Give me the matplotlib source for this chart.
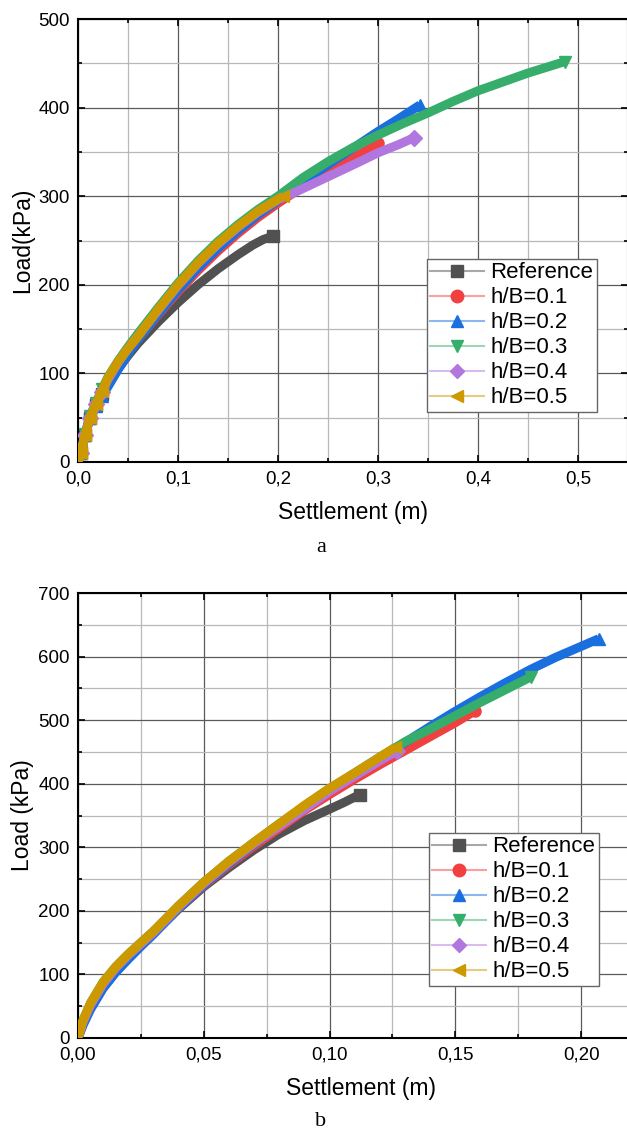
import numpy as np
import matplotlib
matplotlib.use("Agg")
import matplotlib.pyplot as plt
from matplotlib.lines import Line2D
from matplotlib.colors import to_rgb
from matplotlib.ticker import MultipleLocator, FuncFormatter

plt.rcParams['font.family'] = ['Liberation Sans', 'DejaVu Sans']

labels = ['Reference', 'h/B=0.1', 'h/B=0.2', 'h/B=0.3', 'h/B=0.4', 'h/B=0.5']
colors = ['#515151', '#F14040', '#1A6FDF', '#37AD6B', '#B177DE', '#CC9900']
markers = ['s', 'o', '^', 'v', 'D', '<']

# ---- panel a data (settlement m, load kPa)
a_ref_x = [0, 0.003, 0.007, 0.012, 0.018, 0.024, 0.03, 0.04, 0.05, 0.06, 0.08, 0.1, 0.12, 0.14, 0.16, 0.175, 0.185, 0.195]
a_ref_y = [0, 10, 30, 50, 64, 77, 88, 105, 120, 134, 158, 180, 200, 218, 234, 245, 251, 255]
a_01_x = [0, 0.003, 0.007, 0.012, 0.018, 0.024, 0.03, 0.04, 0.05, 0.06, 0.08, 0.1, 0.12, 0.14, 0.16, 0.18, 0.2, 0.22, 0.24, 0.26, 0.28, 0.3]
a_01_y = [0, 10, 30, 50, 64, 77, 88, 106, 123, 138, 166, 192, 216, 238, 258, 276, 292, 307, 320, 333, 346, 360]
a_02_x = [0, 0.003, 0.007, 0.012, 0.018, 0.024, 0.03, 0.04, 0.05, 0.06, 0.08, 0.1, 0.12, 0.14, 0.16, 0.18, 0.2, 0.22, 0.24, 0.26, 0.28, 0.3, 0.32, 0.342]
a_02_y = [0, 10, 30, 50, 63, 75, 85, 104, 122, 138, 167, 194, 219, 241, 261, 279, 295, 312, 328, 343, 358, 373, 387, 403]
a_03_x = [0, 0.003, 0.007, 0.012, 0.018, 0.024, 0.03, 0.04, 0.05, 0.06, 0.08, 0.1, 0.12, 0.14, 0.16, 0.18, 0.2, 0.225, 0.25, 0.275, 0.3, 0.325, 0.35, 0.375, 0.4, 0.425, 0.45, 0.47, 0.487]
a_03_y = [0, 12, 32, 52, 67, 82, 96, 114, 130, 145, 174, 202, 227, 249, 268, 285, 300, 321, 339, 355, 369, 382, 394, 407, 419, 429, 439, 446, 452]
a_04_x = [0, 0.003, 0.007, 0.012, 0.018, 0.024, 0.03, 0.04, 0.05, 0.06, 0.08, 0.1, 0.12, 0.14, 0.16, 0.18, 0.2, 0.22, 0.25, 0.28, 0.3, 0.32, 0.336]
a_04_y = [0, 10, 30, 50, 65, 79, 93, 112, 128, 142, 171, 199, 224, 246, 265, 282, 296, 306, 322, 338, 349, 358, 366]
a_05_x = [0, 0.003, 0.007, 0.012, 0.018, 0.024, 0.03, 0.04, 0.05, 0.06, 0.08, 0.1, 0.12, 0.14, 0.16, 0.18, 0.205]
a_05_y = [0, 10, 30, 50, 65, 80, 95, 113, 128, 142, 172, 200, 225, 247, 266, 283, 300]

# ---- panel b data
b_ref_x = [0, 0.002, 0.005, 0.01, 0.015, 0.02, 0.025, 0.03, 0.04, 0.05, 0.06, 0.07, 0.08, 0.09, 0.1, 0.106, 0.112]
b_ref_y = [0, 25, 50, 82, 106, 127, 146, 165, 203, 238, 268, 296, 321, 342, 360, 371, 383]
b_01_x = [0, 0.002, 0.005, 0.01, 0.015, 0.02, 0.025, 0.03, 0.04, 0.05, 0.06, 0.07, 0.08, 0.09, 0.1, 0.11, 0.12, 0.13, 0.14, 0.15, 0.158]
b_01_y = [0, 22, 48, 80, 105, 126, 146, 165, 205, 240, 272, 302, 330, 358, 383, 407, 430, 452, 474, 496, 515]
b_02_x = [0, 0.002, 0.005, 0.01, 0.015, 0.02, 0.025, 0.03, 0.04, 0.05, 0.06, 0.07, 0.08, 0.09, 0.1, 0.11, 0.12, 0.13, 0.14, 0.15, 0.16, 0.17, 0.18, 0.19, 0.2, 0.207]
b_02_y = [0, 20, 45, 78, 103, 124, 144, 163, 204, 241, 274, 305, 334, 362, 390, 416, 440, 465, 490, 514, 537, 559, 580, 599, 616, 628]
b_03_x = [0, 0.002, 0.005, 0.01, 0.015, 0.02, 0.025, 0.03, 0.04, 0.05, 0.06, 0.07, 0.08, 0.09, 0.1, 0.11, 0.12, 0.13, 0.14, 0.15, 0.16, 0.17, 0.18]
b_03_y = [0, 28, 55, 88, 112, 132, 150, 168, 208, 245, 278, 308, 337, 364, 392, 417, 442, 466, 486, 507, 528, 548, 568]
b_04_x = [0, 0.002, 0.005, 0.01, 0.015, 0.02, 0.025, 0.03, 0.04, 0.05, 0.06, 0.07, 0.08, 0.09, 0.1, 0.11, 0.12, 0.127]
b_04_y = [0, 25, 52, 85, 110, 130, 148, 166, 206, 243, 276, 306, 333, 360, 388, 412, 436, 452]
b_05_x = [0, 0.002, 0.005, 0.01, 0.015, 0.02, 0.025, 0.03, 0.04, 0.05, 0.06, 0.07, 0.08, 0.09, 0.1, 0.11, 0.12, 0.126]
b_05_y = [0, 28, 55, 88, 112, 132, 150, 168, 208, 245, 278, 308, 337, 366, 393, 417, 442, 457]

series_a = [(a_ref_x, a_ref_y), (a_01_x, a_01_y), (a_02_x, a_02_y), (a_03_x, a_03_y), (a_04_x, a_04_y), (a_05_x, a_05_y)]
series_b = [(b_ref_x, b_ref_y), (b_01_x, b_01_y), (b_02_x, b_02_y), (b_03_x, b_03_y), (b_04_x, b_04_y), (b_05_x, b_05_y)]

W, H = 627, 1133
fig = plt.figure(figsize=(W / 100, H / 100), dpi=100)


def px_axes(l, r, t, b):
    return fig.add_axes([l / W, 1 - b / H, (r - l) / W, (b - t) / H])


def lighter(c, f=0.5):
    r, g, b = to_rgb(c)
    return (r + (1 - r) * f, g + (1 - g) * f, b + (1 - b) * f)


def style(ax, xmaj, xmin, ymaj, ymin, xfmt, ylab):
    ax.xaxis.set_major_locator(MultipleLocator(xmaj))
    ax.xaxis.set_minor_locator(MultipleLocator(xmin))
    ax.yaxis.set_major_locator(MultipleLocator(ymaj))
    ax.yaxis.set_minor_locator(MultipleLocator(ymin))
    ax.xaxis.set_major_formatter(FuncFormatter(lambda v, p: (xfmt % v).replace('.', ',')))
    ax.grid(True, which='major', color='#5a5a5a', lw=0.9)
    ax.grid(True, which='minor', color='#b8b8b8', lw=0.9)
    ax.set_axisbelow(True)
    ax.tick_params(which='both', direction='in', top=True, right=True, labelsize=13.5, width=1.2, pad=6)
    ax.tick_params(which='major', length=5)
    ax.tick_params(which='minor', length=3)
    for s in ax.spines.values():
        s.set_linewidth(1.5)
        s.set_color('black')
    ax.set_xlabel('Settlement (m)', fontsize=16.5, labelpad=10)
    ax.set_ylabel(ylab, fontsize=16.5, labelpad=3)


def draw(ax, series, leg_box, early_marks):
    for (x, y), c, m in zip(series, colors, markers):
        ax.plot(x, y, color=c, lw=6.5, solid_capstyle='butt', solid_joinstyle='round', zorder=3)
        if early_marks:
            ax.plot(x[1:6], y[1:6], ls='none', marker=m, ms=8, color=c, zorder=3)
        ax.plot(x[-1:], y[-1:], ls='none', marker=m, ms=8, color=c, zorder=3)
    handles = [Line2D([], [], color=lighter(c), lw=1.5, marker=m, ms=9 if m != 'D' else 7.5,
                      markerfacecolor=c, markeredgecolor=c) for c, m in zip(colors, markers)]
    l, t = leg_box
    leg = ax.legend(handles, labels, loc='upper left', bbox_to_anchor=(l / W, 1 - t / H),
                    bbox_transform=fig.transFigure, fontsize=16, frameon=True, fancybox=False,
                    handlelength=2.4, handletextpad=0.3, labelspacing=0.18, borderpad=0.15,
                    borderaxespad=0, edgecolor='#666666', framealpha=1)
    leg.get_frame().set_linewidth(1.0)


# panel a
ax1 = px_axes(78, 628, 19, 462)
draw(ax1, series_a, (427, 259), True)
ax1.set_xlim(0, 0.55)
ax1.set_ylim(0, 500)
style(ax1, 0.1, 0.05, 100, 50, '%.1f', 'Load(kPa)')

# panel b
ax2 = px_axes(78, 644, 593, 1038)
draw(ax2, series_b, (429, 833), False)
ax2.set_xlim(0, 0.225)
ax2.set_ylim(0, 700)
style(ax2, 0.05, 0.025, 100, 50, '%.2f', 'Load (kPa)')

fig.text(321 / W, 1 - 548 / H, 'a', family='Liberation Serif', fontsize=16, ha='center', va='center')
fig.text(321 / W, 1 - 1122 / H, 'b', family='Liberation Serif', fontsize=16, ha='center', va='center')

fig.savefig('out.png', dpi=100)
